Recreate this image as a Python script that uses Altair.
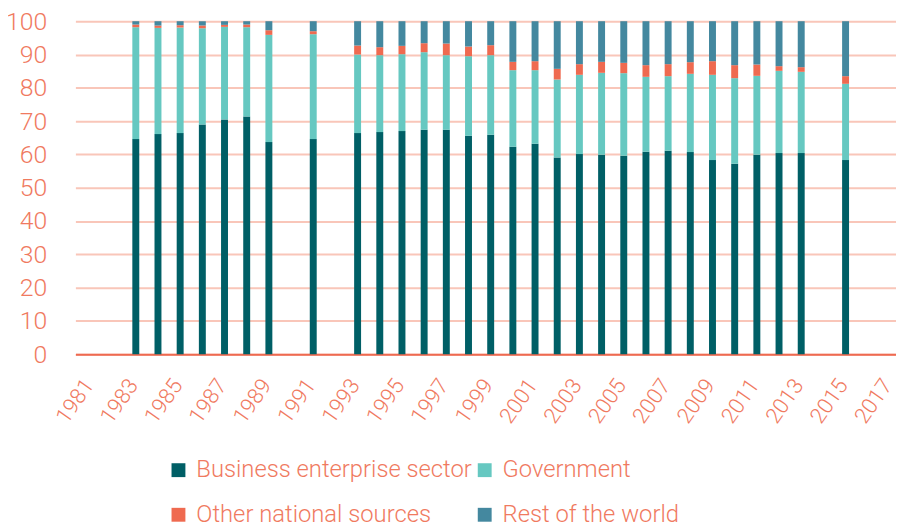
import altair as alt
import pandas as pd

years = [1983, 1984, 1985, 1986, 1987, 1988, 1989, 1991, 1993, 1994, 1995, 1996,
         1997, 1998, 1999, 2000, 2001, 2002, 2003, 2004, 2005, 2006, 2007, 2008,
         2009, 2010, 2011, 2012, 2013, 2015]
business = [64.6, 66.1, 66.4, 69.0, 70.5, 71.4, 63.7, 64.6, 66.4, 66.7, 67.0, 67.4,
            67.4, 65.6, 65.9, 62.3, 63.2, 59.1, 60.1, 59.9, 59.6, 60.8, 61.1, 60.7,
            58.3, 57.2, 59.9, 60.4, 60.4, 58.3]
government = [33.6, 31.9, 31.7, 28.9, 27.8, 26.8, 32.2, 31.5, 23.6, 23.1, 23.1, 23.3,
              22.4, 23.9, 23.9, 23.0, 22.1, 23.4, 23.8, 24.6, 24.8, 22.5, 22.4, 23.5,
              25.6, 25.7, 23.7, 24.7, 24.4, 22.9]
other = [0.8, 0.7, 0.7, 0.8, 0.6, 0.8, 1.4, 0.9, 2.7, 2.4, 2.5, 2.7,
         3.5, 2.9, 3.0, 2.5, 2.7, 3.2, 3.2, 3.3, 3.1, 3.5, 3.6, 3.5,
         4.1, 3.9, 3.4, 1.4, 1.4, 2.3]
rest = [1.0, 1.3, 1.2, 1.3, 1.1, 1.0, 2.7, 3.0, 7.3, 7.8, 7.4, 6.6,
        6.7, 7.6, 7.2, 12.2, 12.0, 14.3, 12.9, 12.2, 12.5, 13.2, 12.9, 12.3,
        12.0, 13.2, 13.0, 13.5, 13.8, 16.5]

series = ["Business enterprise sector", "Government", "Other national sources", "Rest of the world"]
colors = ["#005F66", "#66C8C1", "#EF6A50", "#44889F"]
x_ticks = list(range(1981, 2018, 2))
y_ticks = list(range(0, 101, 10))

rows = []
for i, yr in enumerate(years):
    for k, (name, vals) in enumerate(zip(series, [business, government, other, rest])):
        rows.append({"year": yr, "series": name, "value": vals[i], "order": k})
df = pd.DataFrame(rows)

text_color = "#F07A5F"
font = "Roboto"

chart = alt.Chart(df).mark_bar(size=7).encode(
    x=alt.X("year:Q",
            scale=alt.Scale(domain=[1980.5, 2017.05], nice=False, zero=False),
            axis=alt.Axis(values=x_ticks, format="d", labelAngle=-55, title=None,
                          ticks=False, grid=False, domainColor="#EE6A50", domainWidth=2,
                          labelPadding=27, labelOffset=-3, labelFontSize=22,
                          labelColor=text_color, labelFont=font, labelFontWeight=300,
                          labelAlign="right", labelBaseline="middle",
                          labelFlush=False, labelOverlap=False)),
    y=alt.Y("value:Q", stack="zero",
            scale=alt.Scale(domain=[0, 100], nice=False),
            axis=alt.Axis(values=y_ticks, title=None, ticks=False, domain=False,
                          gridColor="#F9C6B9", gridWidth=2, labelPadding=29,
                          labelFontSize=25, labelColor=text_color, labelFont=font,
                          labelFontWeight=300)),
    color=alt.Color("series:N",
                    scale=alt.Scale(domain=series, range=colors),
                    legend=alt.Legend(title=None, orient="none", legendX=92, legendY=441,
                                      direction="horizontal", columns=2,
                                      symbolType="square", symbolSize=196,
                                      symbolStrokeWidth=0, labelFontSize=24,
                                      labelColor=text_color, labelFont=font,
                                      labelFontWeight=300, labelOffset=6,
                                      columnPadding=-3, rowPadding=21, labelLimit=400)),
    order=alt.Order("order:Q", sort="ascending"),
).properties(
    width=828, height=336,
    autosize=alt.AutoSizeParams(type="none"),
    padding={"left": 68, "top": 11, "right": 0, "bottom": 171},
).configure_view(stroke=None)

chart.save("out.html", embed_options={"renderer": "svg", "actions": False})
